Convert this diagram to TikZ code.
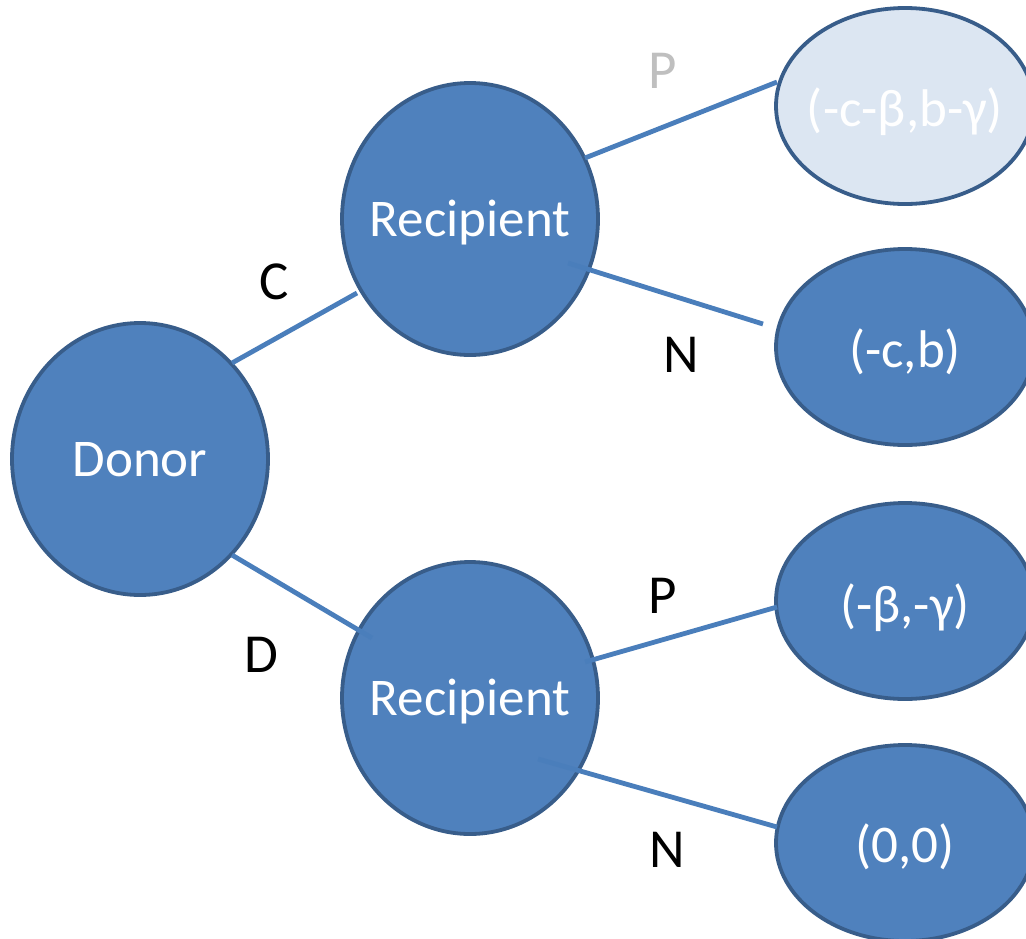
\documentclass[tikz,border=0pt]{standalone}
\usepackage{fontspec}
\setmainfont{Carlito}
\usetikzlibrary{shapes.geometric,calc}

\definecolor{nodefill}{HTML}{4F81BD}
\definecolor{nodeline}{HTML}{385D8A}
\definecolor{edgeblue}{HTML}{4A7EBB}
\definecolor{palefill}{HTML}{DCE6F2}
\definecolor{softgrey}{HTML}{BFBFBF}

\tikzset{
  bigfont/.style={font=\fontsize{53}{63}\selectfont},
  captext/.style={bigfont, inner sep=0pt, text height=34pt, text depth=0pt},
  inner/.style={captext, text=white},
  player/.style={ellipse, draw=nodeline, line width=3.8pt, fill=nodefill,
                 minimum width=256pt, minimum height=272pt, inner sep=0pt},
  payoff/.style={ellipse, draw=nodeline, line width=3.8pt, fill=nodefill,
                 minimum width=258pt, minimum height=196pt, inner sep=0pt},
  palepayoff/.style={payoff, fill=palefill},
  edge/.style={draw=edgeblue, line width=4.8pt},
  move/.style={captext, font=\fontsize{55}{66}\selectfont, text height=35pt, text=black},
}

\begin{document}
\begin{tikzpicture}[x=1pt,y=-1pt]
  \useasboundingbox (0,0) rectangle (1026,938);
  \clip (0,0) rectangle (1026,938);

  % decision nodes
  \node[player, label={[inner]center:Donor}] (donor) at (140,459) {};
  \node[player, label={[inner]center:Recipient}] (recA) at (470,219) {};
  \node[player, label={[inner]center:Recipient}] (recB) at (470,698) {};

  % payoff leaves
  \node[palepayoff, label={[inner, yshift=-3pt]center:(-c-β,b-γ)}] (pay1) at (905,106) {};
  \node[payoff, label={[inner, yshift=-3pt]center:(-c,b)}] (pay2) at (905,347) {};
  \node[payoff, label={[inner, yshift=-4pt]center:(-β,-γ)}] (pay3) at (905,601) {};
  \node[payoff, label={[inner, yshift=-2pt]center:(0,0)}] (pay4) at (905,843) {};

  % branches
  \draw[edge] ($(donor)+(92,-96)$) -- ($(recA)+(-113,74)$);
  \draw[edge] ($(donor)+(92,96)$) -- ($(recB)+(-98,-60)$);
  \draw[edge] ($(recA)+(115,-61)$) -- ($(pay1)+(-128,-24)$);
  \draw[edge] ($(recA)+(98,44)$) -- ($(pay2)+(-142,-23)$);
  \draw[edge] ($(recB)+(115,-36)$) -- ($(pay3)+(-128,6)$);
  \draw[edge] ($(recB)+(68,61)$) -- ($(pay4)+(-128,-16)$);

  % move labels
  \node[move] (mC) at (274,282) {C};
  \node[move] (mD) at (261,655) {D};
  \node[move, text=softgrey] (mP1) at (663,71) {P};
  \node[move] (mN1) at (681,355) {N};
  \node[move] (mP2) at (663,596) {P};
  \node[move] (mN2) at (667,850) {N};
\end{tikzpicture}
\end{document}
